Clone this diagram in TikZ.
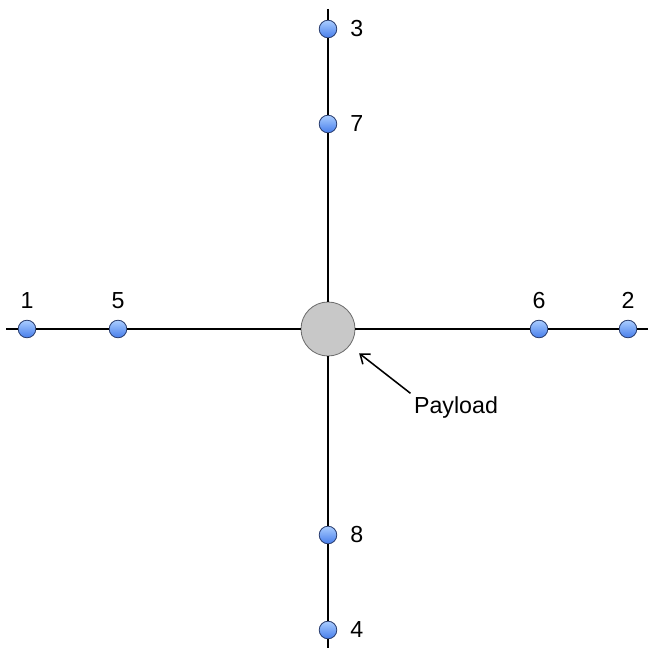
\documentclass[tikz,border=0pt]{standalone}
\usepackage{fontspec}
\setmainfont{Liberation Sans}
\usetikzlibrary{arrows.meta,positioning}
\definecolor{cTop}{RGB}{170,205,255}
\definecolor{cBot}{RGB}{70,125,235}
\definecolor{cRim}{RGB}{40,60,110}
\definecolor{cLoad}{RGB}{200,200,200}
\definecolor{cLoadRim}{RGB}{110,110,110}
\tikzset{
  ballnode/.style={circle,draw=cRim,line width=0.6pt,top color=cTop,
                   bottom color=cBot,minimum size=0.44cm,inner sep=0pt},
  loadnode/.style={circle,draw=cLoadRim,line width=0.6pt,fill=cLoad,
                   minimum size=1.35cm,inner sep=0pt},
  lbl/.style={font=\fontsize{16.5}{19}\selectfont},
  rope/.style={line width=1.3pt,color=black},
  arr/.style={-{Straight Barb[length=6pt,width=9pt]},line width=1.1pt,color=black}
}
\begin{document}
\begin{tikzpicture}[x=0.025cm,y=-0.025cm]
  \useasboundingbox (0,0) rectangle (648,648);
  % payload in the middle
  \node[loadnode] (payload) at (328,329) {};
  % horizontal line
  \coordinate (hl) at (6,329);
  \coordinate (hr) at (648,329);
  \node[ballnode] (n1) at (27,329) {};
  \node[ballnode] (n5) at (118,329) {};
  \node[ballnode] (n6) at (539,329) {};
  \node[ballnode] (n2) at (628,329) {};
  % vertical line
  \coordinate (vt) at (328,9);
  \coordinate (vb) at (328,648);
  \node[ballnode] (n3) at (328,29) {};
  \node[ballnode] (n7) at (328,124) {};
  \node[ballnode] (n8) at (328,535) {};
  \node[ballnode] (n4) at (328,630) {};
  % ropes
  \draw[rope] (hl) -- (n1) -- (n5) -- (payload) -- (n6) -- (n2) -- (hr);
  \draw[rope] (vt) -- (n3) -- (n7) -- (payload) -- (n8) -- (n4) -- (vb);
  % labels
  \node[lbl,above=0.72cm of n1.center,anchor=center] {1};
  \node[lbl,above=0.72cm of n5.center,anchor=center] {5};
  \node[lbl,above=0.72cm of n6.center,anchor=center] {6};
  \node[lbl,above=0.72cm of n2.center,anchor=center] {2};
  \node[lbl,right=0.72cm of n3.center,anchor=center] {3};
  \node[lbl,right=0.72cm of n7.center,anchor=center] {7};
  \node[lbl,right=0.72cm of n8.center,anchor=center] {8};
  \node[lbl,right=0.72cm of n4.center,anchor=center] {4};
  \node[lbl,inner sep=0pt] (plabel) at (456,407) {Payload};
  \draw[arr,shorten <=3pt,shorten >=0.3cm] (plabel.north west) -- (payload);
\end{tikzpicture}
\end{document}
